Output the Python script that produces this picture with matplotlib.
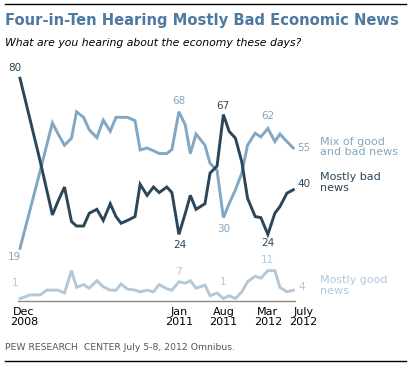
import matplotlib.pyplot as plt
import matplotlib.transforms as mtransforms
from matplotlib.lines import Line2D

# Survey points, months since Dec 2008
months = [0, 1.6, 3.2, 4.2, 5.1, 6.0, 7.0, 8.1, 8.9, 10.0,
          10.9, 12.1, 13.1, 14.2, 15.1, 15.9, 16.9, 18.1, 18.9, 20.0,
          21.0, 21.9, 23.1, 23.9, 25.0, 26.0, 26.8, 27.7, 29.1, 29.9,
          31.0, 32.0, 32.9, 33.9, 34.9, 35.8, 37.0, 37.9, 39.0, 40.1,
          40.9, 42.0, 43.0]

mostly_bad = [80, 65, 50, 40, 31, 36, 41, 28.6, 27, 27,
              31.6, 33, 29, 35, 30.4, 28, 29, 30.4, 42, 38,
              41, 39, 41, 39, 24, 31.5, 38, 33, 35, 46,
              48.5, 67, 61, 58.5, 50, 37, 30.4, 30, 24, 31.6,
              34, 38.8, 40]

mix = [19, 33, 47, 56, 64, 60, 56, 58.5, 68, 66,
       61.5, 58.7, 65, 61, 66, 66, 66, 64.8, 54.3, 55,
       54, 53, 53, 54.5, 68, 63.3, 53, 60, 56, 49.5,
       47, 30, 35, 40, 46, 56, 60.3, 59, 62, 57.3,
       60, 57.3, 55]

mostly_good = [1, 2.3, 2.3, 4, 4, 4, 3, 11, 5, 6,
               4.7, 7.4, 5.2, 4, 4, 6.2, 4.4, 4, 3.4, 4,
               3.4, 6, 4.5, 4, 7, 6.5, 7.4, 4.7, 5.8, 2,
               3, 1, 2, 1, 3.4, 7, 9, 8.3, 11, 11,
               5, 3.4, 4]

tick_pos = [0, 25, 32, 39, 43]
tick_labels = ['Dec\n2008', 'Jan\n2011', 'Aug\n2011', 'Mar\n2012', 'July\n2012']

c_bad = '#2b4659'
c_mix = '#82a7c2'
c_good = '#b3c8d9'
c_title = '#4d7aa0'

fig = plt.figure(figsize=(4.11, 3.67), dpi=100)
ax = fig.add_axes([18.1 / 411, 1 - 301.3 / 367, 277.1 / 411, 85 * 2.7875 / 367])

ax.plot(months, mix, color=c_mix, lw=2.1, solid_joinstyle='miter')
ax.plot(months, mostly_good, color=c_good, lw=2.1, solid_joinstyle='miter')
ax.plot(months, mostly_bad, color=c_bad, lw=2.1, solid_joinstyle='miter')

ax.set_xlim(-0.3, 43.3)
ax.set_ylim(0, 85)
for s in ['top', 'right', 'left']:
    ax.spines[s].set_visible(False)
ax.spines['bottom'].set_color('#8a8a8a')
ax.spines['bottom'].set_linewidth(1)
ax.set_yticks([])
ax.set_xticks(tick_pos)
ax.set_xticklabels(tick_labels, fontsize=8, linespacing=1.0)
ax.tick_params(axis='x', length=0, pad=4)
# first and last labels sit a little to the right of their dates
shift = mtransforms.ScaledTranslation(10 / 100, 0, fig.dpi_scale_trans)
ax.get_xticklabels()[-1].set_transform(ax.get_xticklabels()[-1].get_transform() + shift)
shift0 = mtransforms.ScaledTranslation(4 / 100, 0, fig.dpi_scale_trans)
ax.get_xticklabels()[0].set_transform(ax.get_xticklabels()[0].get_transform() + shift0)


# value labels: (series, index, color, offset px)
def label(series, i, color, dx, dy, ha='center'):
    ax.annotate(f'{series[i]:.0f}', xy=(months[i], series[i]),
                xytext=(dx * 0.72, dy * 0.72), textcoords='offset points',
                ha=ha, va='center', fontsize=7.5, color=color)


label(mostly_bad, 0, c_bad, -5.5, 10)
label(mix, 0, c_mix, -5.5, -9)
label(mostly_good, 0, c_good, -5, 16)
label(mix, 24, c_mix, 0, 11)
label(mostly_bad, 24, c_bad, 1, -11)
label(mostly_good, 24, c_good, 0, 10)
label(mostly_bad, 31, c_bad, -1, 9)
label(mix, 31, c_mix, 0, -11)
label(mostly_good, 31, c_good, 0, 17)
label(mix, 38, c_mix, 0, 12)
label(mostly_bad, 38, c_bad, 0, -9)
label(mostly_good, 38, c_good, 0, 11)
label(mix, 42, c_mix, 4, 0, ha='left')
label(mostly_bad, 42, c_bad, 4, 6, ha='left')
label(mostly_good, 42, c_good, 5, 3, ha='left')

# series names
fig.text(320 / 411, 1 - 147 / 367, 'Mix of good\nand bad news', color=c_mix,
         fontsize=8, va='center', ha='left', linespacing=1.05)
fig.text(320 / 411, 1 - 182.5 / 367, 'Mostly bad\nnews', color=c_bad,
         fontsize=8, va='center', ha='left', linespacing=1.05)
fig.text(320 / 411, 1 - 285.5 / 367, 'Mostly good\nnews', color=c_good,
         fontsize=8, va='center', ha='left', linespacing=1.05)

# header, footer and rules
fig.add_artist(Line2D([5 / 411, 406 / 411], [1 - 4 / 367, 1 - 4 / 367], color='black', lw=1))
fig.add_artist(Line2D([5 / 411, 406 / 411], [1 - 361 / 367, 1 - 361 / 367], color='black', lw=1))
fig.text(5 / 411, 1 - 20.5 / 367, 'Four-in-Ten Hearing Mostly Bad Economic News',
         fontsize=10.6, fontweight='bold', color=c_title, va='center', ha='left')
fig.text(5 / 411, 1 - 43 / 367, 'What are you hearing about the economy these days?',
         fontsize=7.8, style='italic', color='black', va='center', ha='left')
fig.text(5 / 411, 1 - 347 / 367, 'PEW RESEARCH  CENTER July 5-8, 2012 Omnibus.',
         fontsize=6.7, color='#555555', va='center', ha='left')

plt.savefig('out.png', dpi=100)
